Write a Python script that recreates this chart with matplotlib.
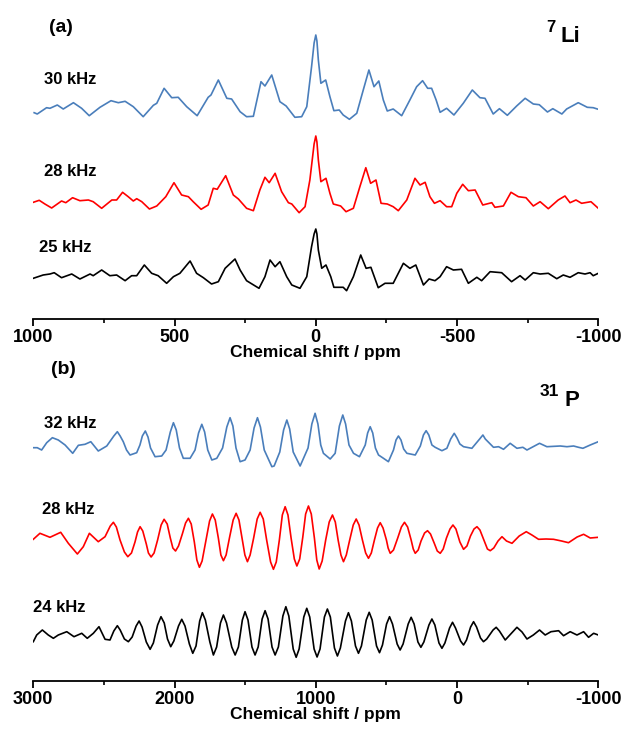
import numpy as np
import matplotlib.pyplot as plt
from matplotlib.ticker import MultipleLocator

plt.rcParams['font.family'] = ['Liberation Sans', 'DejaVu Sans']
plt.rcParams['font.weight'] = 'bold'
plt.rcParams['axes.unicode_minus'] = False

# ---- panel (a): 7Li spectra, shift in ppm, intensity in arbitrary units ----
li30_ppm = [997, 986, 953, 941, 915, 894, 858, 829, 802, 764, 725, 699, 675, 646, 611, 575, 563, 537,
            510, 487, 457, 420, 381, 371, 345, 315, 298, 268, 245, 221, 194, 180, 156, 127, 105, 74, 50,
            32, 15, 6, 0, -4, -9, -18, -35, -50, -64, -83, -97, -119, -145, -168, -188, -206, -223, -239, -253,
            -274, -304, -333, -357, -378, -396, -410, -426, -440, -463, -489, -522, -554, -581, -599,
            -628, -650, -678, -711, -741, -770, -791, -820, -839, -871, -888, -929, -961, -982, -1000]
li30_int = [4.3, 3, 9.3, 8.7, 12, 8, 14.3, 8.7, 1.3, 9.7, 16.3, 14.3, 15.7, 10.3, 0.3, 11.7, 13.7, 28.7,
            19.3, 19.7, 10.3, 1.3, 19.7, 22, 37, 18.7, 18, 5.3, 0.3, 0.7, 35.3, 31, 42, 15.3, 11, -0.3, 0.3,
            10.3, 50.3, 74, 82, 76, 57, 33.7, 37, 20.3, 6.3, 7, 2, -2.3, 3.7, 27, 47, 30.3, 36, 17, 6,
            8, 1.3, 17, 30.3, 36.3, 28.7, 28.7, 17, 4.7, 8.7, 2, 13.7, 27, 19.3, 18.7,
            3, 8.3, 1.7, 11, 18.7, 13, 12.3, 5, 8.3, 3, 8, 14.3, 9.7, 9.3, 7.7]

li28_ppm = [1000, 979, 959, 935, 900, 885, 861, 835, 805, 788, 758, 722, 705, 684, 664, 646, 634, 616,
            589, 563, 531, 502, 475, 451, 434, 406, 381, 363, 349, 319, 292, 274, 245, 221, 198, 180, 165,
            144, 121, 97, 85, 59, 38, 21, 6, 0, -4, -9, -18, -36, -50, -62, -88, -107, -133, -156, -177, -194,
            -213, -231, -253, -274, -292, -322, -351, -369, -387, -404, -420, -440, -463, -481, -499,
            -520, -540, -564, -591, -623, -634, -664, -691, -717, -744, -770, -794, -823, -858, -882,
            -900, -921, -941, -974, -1000]
li28_int = [7.7, 9.7, 6, 2, 9, 7.3, 12.3, 9.3, 10, 8.3, 1.7, 10, 10, 17.7, 13.3, 9, 11.3, 8.3,
            1, 4, 13.3, 27.3, 15, 13.3, 8.3, 0.7, 5, 21.7, 20.7, 34.3, 15, 11, 1.7, -0.7, 20, 32.7, 27.3,
            36.7, 18.3, 7.3, 6, -2.7, 3.3, 30, 66, 74, 68, 50, 28.3, 31.7, 16.7, 6, 4, -1.7, 1.7, 23.3, 42.3, 26.7,
            30, 6.7, 6, 3.3, -0.7, 10, 31.7, 25, 27.7, 13.3, 6.7, 9.3, 3.3, 3.3, 16.7,
            25.7, 19.3, 20, 5, 7.3, 2.7, 4, 17.7, 13.3, 12.3, 4, 8.3, 1.3, 10, 14,
            7.3, 10, 6.7, 8.3, 1.7]

li25_ppm = [1000, 965, 941, 926, 900, 864, 835, 799, 788, 758, 729, 705, 675, 652, 634, 607, 581, 558,
            528, 504, 481, 445, 422, 398, 369, 345, 321, 286, 268, 245, 201, 180, 162, 144, 127, 103, 85,
            56, 32, 15, 6, 0, -4, -9, -21, -36, -53, -64, -97, -109, -133, -159, -178, -195, -207, -221, -245,
            -274, -310, -333, -354, -381, -401, -422, -440, -463, -487, -516, -540, -570, -587, -617,
            -658, -693, -723, -741, -770, -794, -823, -853, -876, -900, -929, -953, -971, -982, -1000]
li25_int = [9.7, 13, 14, 15.3, 10.3, 14, 9, 14, 12.3, 18, 12.3, 13, 7.3, 12.3, 12.3, 23, 14.7, 12.3,
            4.7, 11.3, 14.7, 27, 14.7, 10.3, 4, 6.3, 19.7, 29, 18, 7.3, -0.3, 11.3, 28, 21.3, 26.3, 11.3, 3,
            -0.3, 11.3, 41.3, 54, 59, 54, 38, 19.7, 23, 11.3, 0.7, 0.7, -2.7, 11.3, 33, 19.7, 20.7, 11.3, 0.3, 4.7,
            4.7, 24.7, 19.7, 23, 3, 9, 7.3, 11.3, 21.3, 18, 18.7, 4.7, 10.7, 7.3, 16.3,
            15.3, 6.3, 12.3, 8, 15.3, 14, 14.7, 9.3, 13, 10.7, 15.3, 14, 15.3, 12.3, 14.7]

# ---- panel (b): 31P spectra ----
p32_ppm = [3000, 2972, 2941, 2905, 2865, 2823, 2775, 2721, 2681, 2634, 2593, 2540, 2480,
           2430, 2405, 2385, 2363, 2340, 2315, 2268,
           2245, 2228, 2207, 2188, 2170, 2138, 2091,
           2060, 2030, 2008, 1988, 1965, 1938, 1890,
           1855, 1830, 1807, 1787, 1765, 1736, 1701,
           1660, 1630, 1607, 1587, 1565, 1536, 1501,
           1465, 1437, 1413, 1392, 1365, 1311, 1295,
           1255, 1228, 1205, 1185, 1160, 1111,
           1055, 1028, 1005, 985, 965, 946, 898, 863,
           833, 809, 789, 765, 733, 691,
           650, 633, 615, 597, 578, 556, 521, 486,
           450, 432, 415, 397, 378, 355, 296,
           260, 238, 219, 200, 178, 155, 107, 72,
           45, 20, 0, -20, -46, -105, -160, -183, -200, -258, -294, -329, -376, -424, -466, -495,
           -584, -636, -731, -778, -825, -860, -891, -943, -1000]
p32_int = [12.3, 12.3, 10, 17.3, 22.3, 20, 15, 6.7, 14.7, 15.7, 18.3, 9, 14,
           24, 28.3, 24, 18.3, 10, 5, 7.3,
           15, 24, 29, 23, 12, 3.3, 4,
           10, 28, 37.3, 30, 12, 1.7, 1.7,
           10, 27, 35.7, 28, 10, 0, 1.7,
           12, 33, 42.3, 34, 12, -1.7, 0,
           10, 32, 42.3, 33, 10, -6.7, -6,
           8, 30, 40, 31, 8, -6,
           12, 36, 46.7, 36, 15, 6.7, 1, 6.7,
           34, 45, 36, 15, 6.7, 3.3,
           15, 27, 33.3, 27, 12, 5, 1.7, -1.7,
           10, 20, 24, 20, 11, 6.7, 5,
           14, 25, 29.3, 25, 15, 12.7, 9.3, 11.7,
           21, 26.7, 22, 16, 13.3, 11.7, 21, 25, 21, 12.7, 13.3, 10.7, 16.7, 11.7, 12.7, 10,
           16.7, 13.3, 14, 13.3, 14, 12.7, 11.7, 15, 18.3]

p28_ppm = [3000, 2953, 2882, 2806, 2752, 2688, 2646, 2603, 2540, 2492, 2455, 2433, 2412, 2386, 2355,
           2331, 2305, 2280, 2262, 2244, 2225, 2200, 2185, 2166, 2145, 2120, 2095, 2074, 2052, 2030,
           2012, 1993, 1972, 1945, 1922, 1902, 1882, 1860, 1842, 1824, 1805, 1780, 1752, 1732, 1712,
           1690, 1672, 1654, 1635, 1610, 1585, 1564, 1544, 1522, 1502, 1484, 1465, 1440, 1415, 1394,
           1372, 1348, 1320, 1300, 1280, 1258, 1237, 1217, 1197, 1175, 1152, 1134, 1114, 1092, 1072,
           1052, 1032, 1010, 993, 976, 955, 930, 905, 882, 862, 842, 822, 804, 784, 760, 735, 714,
           694, 670, 647, 627, 607, 585, 563, 544, 524, 500, 488, 473, 450, 420, 394, 372, 350, 325,
           310, 296, 275, 255, 230, 209, 188, 162, 140, 119, 98, 75, 50, 29, 8, -20, -46, -70, -95,
           -120, -141, -162, -190, -215, -235, -260, -290, -318, -350, -389, -440, -490, -530, -577,
           -630, -683, -740, -789, -850, -896, -943, -1000]
p28_int = [10.7, 16.7, 12.7, 17.7, 6.7, -4, 3.3, 16.7, 8.3, 13.3, 24, 27.7, 23, 10, -2,
           -6.7, -3, 8, 18, 23.3, 19, 6, -3, -7, -3, 10, 25, 30.7, 26, 12,
           2, -1, 4, 16, 27, 31.7, 26, 8, -10, -17.3, -11, 8, 29, 36, 30,
           12, -5, -10.7, -5, 13, 30, 36.7, 30, 12, -5, -11.7, -5, 12, 31, 37.7,
           31, 10, -12, -19.3, -12, 10, 35, 43.3, 35, 12, -9, -16, -9, 13, 36,
           44, 36, 12, -10, -19, -11, 10, 28, 35, 28, 10, -5, -11.7, -5, 10, 25, 31,
           25, 10, -3, -8.3, -3, 10, 22, 27.3, 22, 10, 2, -3.3, 0, 12, 23, 27.7, 23, 10,
           1, -3.3, 0, 9, 17, 19.3, 16, 7, -1, -3.3, 1, 12, 21, 25, 21, 8, 0.7, 4, 14,
           21, 23.3, 20, 10, 1, -0.7, 2, 9, 13.3, 9, 6.7, 14, 18.3, 15, 10.7,
           11, 10.7, 9, 7.3, 13, 15.7, 12, 12.7]

p24_ppm = [3000, 2976, 2936, 2894, 2858, 2823, 2763, 2712, 2657, 2618, 2575, 2535, 2492, 2457,
           2430, 2405, 2385, 2355, 2327, 2300, 2272, 2251, 2230, 2200, 2173, 2150, 2120, 2096, 2073,
           2050, 2027, 2005, 1972, 1949, 1926, 1895, 1871, 1848, 1822, 1803, 1782, 1750, 1725, 1702,
           1675, 1654, 1632, 1595, 1571, 1548, 1520, 1501, 1480, 1452, 1430, 1408, 1380, 1359, 1338,
           1310, 1288, 1265, 1233, 1212, 1191, 1160, 1139, 1118, 1085, 1064, 1043, 1012, 991, 970,
           939, 918, 897, 868, 847, 826, 790, 769, 748, 719, 698, 677, 643, 622, 601, 570, 549, 528,
           499, 478, 457, 424, 403, 382, 346, 325, 304, 277, 256, 235, 199, 178, 157, 128, 107, 86,
           53, 32, 11, -25, -46, -67, -96, -117, -138, -166, -187, -210, -255, -277, -300, -341, -380,
           -424, -460, -495, -540, -584, -624, -665, -719, -754, -801, -849, -896, -931, -967, -1000]
p24_int = [3.3, 10, 15, 10, 6.7, 10, 13.3, 8.3, 11.7, 6.7, 11.7, 18.3, 5.7, 5,
           14, 19.3, 15, 6, 3.3, 8, 19, 24, 18, 3, -4.3, 2, 20, 28.3, 22,
           6, -1.7, 4, 19, 25.7, 19, 1, -8.3, -1, 24, 32.3, 25, 3, -10, -2,
           22, 30, 22, -2, -10, -2, 25, 33.3, 25, -2, -10, -2, 26, 34.3, 26,
           -2, -10, -2, 29, 38.3, 29, -4, -12.3, -4, 28, 36.7, 28, -4, -12, -4,
           28, 36, 28, -3, -11, -3, 24, 32.3, 24, -1, -8.3, -1, 25, 32.7, 25, -1, -7.7, 0,
           21, 28.3, 21, 1, -5, 1, 21, 27.7, 21, 3, -2.3, 3, 20, 26, 20, 2, -3.3, 2,
           17, 22.7, 17, 4, 0, 5, 18, 23.3, 18, 7, 3.3, 6, 15, 17.7, 14, 5, 11,
           17.7, 13, 6, 10, 15, 10, 13.3, 14.3, 9.3, 13.3, 10, 13.3, 7.7, 11.7, 10]

W, H = 624, 729
fig = plt.figure(figsize=(W / 100, H / 100), dpi=100)
blue = '#4A7EBB'

def style_axis(ax, major, minor):
    for s in ['left', 'right', 'top']:
        ax.spines[s].set_visible(False)
    ax.spines['bottom'].set_linewidth(1.3)
    ax.set_yticks([])
    ax.xaxis.set_major_locator(MultipleLocator(major))
    ax.xaxis.set_minor_locator(MultipleLocator(minor))
    ax.tick_params(axis='x', which='major', direction='out', length=5, width=1.3,
                   labelsize=13, pad=2.5)
    ax.tick_params(axis='x', which='minor', direction='out', length=3, width=1.2)
    for lab in ax.get_xticklabels():
        lab.set_fontweight('bold')
    ax.set_xlabel('Chemical shift / ppm', fontsize=12.5, fontweight='bold', labelpad=-1)

# panel (a)
axa = fig.add_axes([33.3 / W, 1 - 318.5 / H, 565 / W, 318.5 / H])
axa.plot(li30_ppm, np.array(li30_int) + 201.5, color=blue, lw=1.2)
axa.plot(li28_ppm, np.array(li28_int) + 108.5, color='red', lw=1.2)
axa.plot(li25_ppm, np.array(li25_int) + 30.5, color='black', lw=1.2)
axa.set_xlim(1000, -1000)
axa.set_ylim(0, 318.5)
style_axis(axa, 500, 250)

# panel (b)
axb = fig.add_axes([33.3 / W, 1 - 680.5 / H, 565 / W, 320.5 / H])
axb.plot(p32_ppm, np.array(p32_int) + 220.5, color=blue, lw=1.2)
axb.plot(p28_ppm, np.array(p28_int) + 130.5, color='red', lw=1.2)
axb.plot(p24_ppm, np.array(p24_int) + 35.5, color='black', lw=1.2)
axb.set_xlim(3000, -1000)
axb.set_ylim(0, 320.5)
style_axis(axb, 1000, 500)

def ftext(x, y, s, size, **kw):
    fig.text(x / W, 1 - y / H, s, fontsize=size, fontweight='bold', va='center', **kw)

ftext(49, 27, '(a)', 14)
ftext(44, 80, '30 kHz', 12)
ftext(44, 172, '28 kHz', 12)
ftext(39, 248, '25 kHz', 12)
ftext(546, 28, '7', 12)
ftext(561, 37, 'Li', 16)

ftext(51, 370, '(b)', 14)
ftext(44, 423, '32 kHz', 12)
ftext(42, 509, '28 kHz', 12)
ftext(33, 608, '24 kHz', 12)
ftext(540, 391, '31', 12.5)
ftext(565, 400, 'P', 16)

fig.savefig('out.png', dpi=100)
